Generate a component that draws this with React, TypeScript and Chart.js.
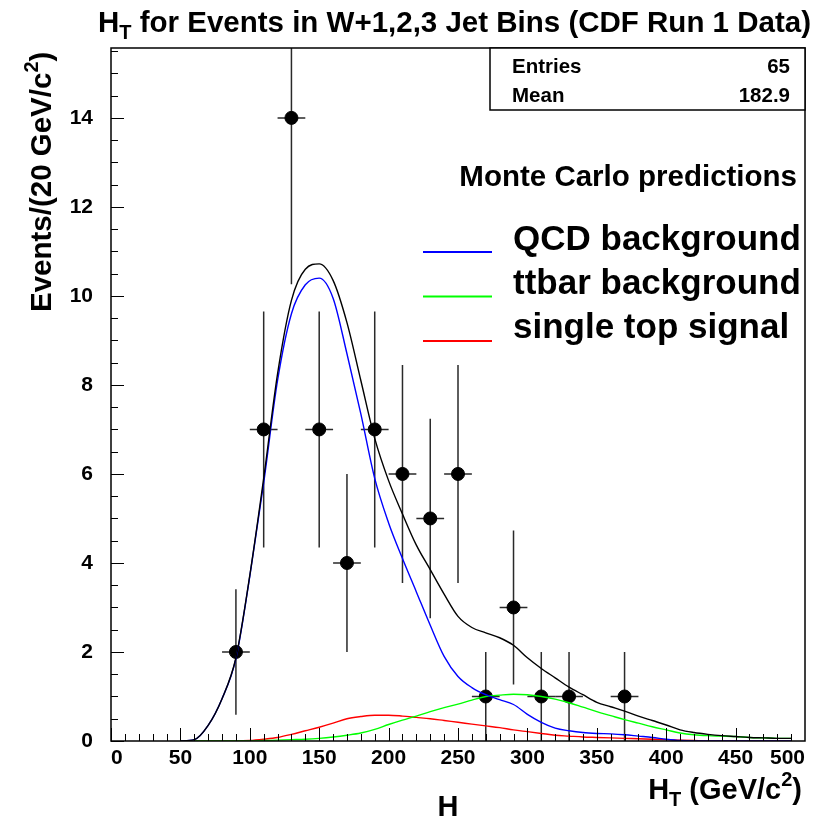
import React, { useEffect, useRef } from 'react';
import { Chart, registerables } from 'chart.js';

Chart.register(...registerables);

// ---------- data ----------
const binCenters = [90, 110, 130, 150, 170, 190, 210, 230, 250, 270, 290, 310, 330, 370];
const counts = [2, 7, 14, 7, 4, 7, 6, 5, 6, 1, 3, 1, 1, 1];
const errors = [1.41, 2.65, 3.74, 2.65, 2.0, 2.65, 2.45, 2.24, 2.45, 1.0, 1.73, 1.0, 1.0, 1.0];
const binHalfWidth = 10;

const curveX = [
  50, 60, 70, 80, 90, 100, 110, 120, 130, 140,
  150, 160, 170, 180, 190, 200, 210, 220, 230, 240,
  250, 260, 270, 280, 290, 300, 310, 320, 330, 340,
  350, 360, 370, 380, 390, 400, 410, 420, 430, 440,
  450, 460, 470, 480, 490,
];
const qcdBackground = [
  0, 0.03, 0.35, 0.95, 1.85, 3.7, 5.8, 8.1, 9.6, 10.25,
  10.4, 9.95, 8.7, 7.35, 5.9, 4.9, 4.1, 3.35, 2.6, 1.9,
  1.45, 1.2, 1.04, 0.93, 0.82, 0.6, 0.42, 0.29, 0.23, 0.19,
  0.17, 0.16, 0.14, 0.11, 0.08, 0.04, 0.01, 0, 0, 0,
  0, 0, 0, 0, 0,
];
const ttbarBackground = [
  0, 0, 0, 0, 0, 0, 0.01, 0.02, 0.03, 0.04,
  0.06, 0.09, 0.13, 0.18, 0.26, 0.37, 0.47, 0.56, 0.66, 0.75,
  0.83, 0.92, 1.0, 1.03, 1.05, 1.04, 1.0, 0.94, 0.86, 0.76,
  0.66, 0.57, 0.48, 0.4, 0.32, 0.25, 0.18, 0.14, 0.12, 0.11,
  0.1, 0.08, 0.07, 0.06, 0.06,
];
const singleTopSignal = [
  0, 0, 0, 0, 0, 0.01, 0.04, 0.08, 0.15, 0.23,
  0.31, 0.4, 0.5, 0.55, 0.58, 0.58, 0.56, 0.53, 0.5, 0.46,
  0.42, 0.38, 0.34, 0.3, 0.25, 0.21, 0.17, 0.13, 0.11, 0.09,
  0.08, 0.07, 0.06, 0.05, 0.04, 0.03, 0.02, 0.01, 0, 0,
  0, 0, 0, 0, 0,
];
const totalPrediction = [
  0, 0.03, 0.35, 0.95, 1.87, 3.72, 5.9, 8.25, 9.9, 10.6,
  10.72, 10.35, 9.4, 8.1, 6.8, 5.85, 5.1, 4.4, 3.85, 3.3,
  2.8, 2.55, 2.43, 2.32, 2.15, 1.87, 1.63, 1.42, 1.21, 1.04,
  0.87, 0.77, 0.67, 0.56, 0.46, 0.36, 0.25, 0.19, 0.15, 0.12,
  0.1, 0.08, 0.07, 0.06, 0.06,
];

const xTickValues = [0, 50, 100, 150, 200, 250, 300, 350, 400, 450, 500];
const yTickValues = [0, 2, 4, 6, 8, 10, 12, 14];

const titleMain = 'H';
const titleSub = 'T';
const titleRest = ' for Events in W+1,2,3 Jet Bins (CDF Run 1 Data)';
const legendHeader = 'Monte Carlo predictions';
const legendLabels = ['QCD background', 'ttbar background', 'single top signal'];
const legendColors = ['#0000ff', '#00ff00', '#ff0000'];
const statsLabels = ['Entries', 'Mean'];
const statsValues = ['65', '182.9'];

const FONT = '"Liberation Sans", Arial, Helvetica, sans-serif';

type Part = { t: string; s: number; dy?: number };

function partsWidth(ctx: CanvasRenderingContext2D, parts: Part[]) {
  let w = 0;
  for (const p of parts) {
    ctx.font = `bold ${p.s}px ${FONT}`;
    w += ctx.measureText(p.t).width;
  }
  return w;
}

function drawParts(ctx: CanvasRenderingContext2D, parts: Part[], x: number, y: number) {
  let cx = x;
  ctx.textAlign = 'left';
  ctx.textBaseline = 'alphabetic';
  for (const p of parts) {
    ctx.font = `bold ${p.s}px ${FONT}`;
    ctx.fillText(p.t, cx, y + (p.dy || 0));
    cx += ctx.measureText(p.t).width;
  }
}

const overlay = {
  id: 'overlay',
  beforeDatasetsDraw(chart: any) {
    const { ctx, chartArea: a } = chart;
    const xs = chart.scales.x;
    const ys = chart.scales.y;
    ctx.save();
    ctx.beginPath();
    ctx.rect(a.left, a.top, a.right - a.left, a.bottom - a.top);
    ctx.clip();
    ctx.strokeStyle = '#2a2a2a';
    ctx.lineWidth = 1.5;
    for (let i = 0; i < binCenters.length; i++) {
      const px = xs.getPixelForValue(binCenters[i]);
      const py = ys.getPixelForValue(counts[i]);
      ctx.beginPath();
      ctx.moveTo(px, ys.getPixelForValue(counts[i] - errors[i]));
      ctx.lineTo(px, ys.getPixelForValue(counts[i] + errors[i]));
      ctx.moveTo(xs.getPixelForValue(binCenters[i] - binHalfWidth), py);
      ctx.lineTo(xs.getPixelForValue(binCenters[i] + binHalfWidth), py);
      ctx.stroke();
    }
    ctx.restore();
  },
  afterDraw(chart: any) {
    const { ctx, chartArea: a } = chart;
    const xs = chart.scales.x;
    const ys = chart.scales.y;
    ctx.save();
    ctx.fillStyle = '#000';
    ctx.strokeStyle = '#000';

    // frame
    ctx.lineWidth = 1.5;
    ctx.strokeRect(a.left, a.top, a.right - a.left, a.bottom - a.top);

    // x tick marks (inward)
    ctx.lineWidth = 1;
    for (let v = 0; v <= 490; v += 10) {
      const px = Math.round(xs.getPixelForValue(v)) + 0.5;
      const len = v % 50 === 0 ? 13 : 7;
      ctx.beginPath();
      ctx.moveTo(px, a.bottom);
      ctx.lineTo(px, a.bottom - len);
      ctx.stroke();
    }
    // y tick marks (inward)
    for (let v = 0; v <= 15.5; v += 0.5) {
      const py = Math.round(ys.getPixelForValue(v)) + 0.5;
      const len = Math.abs(v % 2) < 1e-6 ? 13 : 7;
      ctx.beginPath();
      ctx.moveTo(a.left, py);
      ctx.lineTo(a.left + len, py);
      ctx.stroke();
    }

    // title
    drawParts(ctx, [
      { t: titleMain, s: 29.5 },
      { t: titleSub, s: 20, dy: 7 },
      { t: titleRest, s: 29.5 },
    ], 98, 32);

    // y title (rotated)
    ctx.save();
    ctx.translate(51, 312);
    ctx.rotate(-Math.PI / 2);
    drawParts(ctx, [
      { t: 'Events/(20 GeV/c', s: 29.5 },
      { t: '2', s: 20, dy: -13 },
      { t: ')', s: 29.5 },
    ], 0, 0);
    ctx.restore();

    // x title
    const xParts: Part[] = [
      { t: 'H', s: 29 },
      { t: 'T', s: 20, dy: 7 },
      { t: ' (GeV/c', s: 29 },
      { t: '2', s: 20, dy: -13 },
      { t: ')', s: 29 },
    ];
    const xw = partsWidth(ctx, xParts);
    drawParts(ctx, xParts, 802 - xw, 799);

    // big H under axis
    ctx.font = `bold 29px ${FONT}`;
    ctx.textAlign = 'center';
    ctx.fillText('H', 448, 816);

    // stats box
    const boxLeft = 490;
    ctx.fillStyle = '#fff';
    ctx.fillRect(boxLeft, a.top, a.right - boxLeft, 62);
    ctx.lineWidth = 1.5;
    ctx.strokeRect(boxLeft, a.top, a.right - boxLeft, 62);
    ctx.fillStyle = '#000';
    ctx.font = `bold 20.5px ${FONT}`;
    for (let i = 0; i < statsLabels.length; i++) {
      const by = a.top + 25 + i * 29;
      ctx.textAlign = 'left';
      ctx.fillText(statsLabels[i], 512, by);
      ctx.textAlign = 'right';
      ctx.fillText(statsValues[i], 790, by);
    }

    // legend
    ctx.font = `bold 29.5px ${FONT}`;
    ctx.textAlign = 'right';
    ctx.fillText(legendHeader, 797, 186);
    ctx.textAlign = 'left';
    ctx.font = `bold 35px ${FONT}`;
    for (let i = 0; i < legendLabels.length; i++) {
      const ly = 252 + i * 44.5;
      ctx.strokeStyle = legendColors[i];
      ctx.lineWidth = 2;
      ctx.beginPath();
      ctx.moveTo(423, ly);
      ctx.lineTo(492, ly);
      ctx.stroke();
      ctx.fillText(legendLabels[i], 513, 250 + i * 44);
    }
    ctx.restore();
  },
};

function curveData(vals: number[]) {
  return curveX.map((x, i) => ({ x, y: vals[i] }));
}

export default function App() {
  const ref = useRef<HTMLCanvasElement | null>(null);
  useEffect(() => {
    if (!ref.current) return;
    const lineDs = (label: string, vals: number[], color: string) => ({
      label,
      data: curveData(vals),
      showLine: true,
      borderColor: color,
      backgroundColor: color,
      borderWidth: 1.4,
      pointRadius: 0,
      cubicInterpolationMode: 'monotone' as const,
      fill: false,
    });
    const chart = new Chart(ref.current, {
      type: 'scatter',
      data: {
        datasets: [
          lineDs('total', totalPrediction, '#000000'),
          lineDs('QCD background', qcdBackground, '#0000ff'),
          lineDs('ttbar background', ttbarBackground, '#00ff00'),
          lineDs('single top signal', singleTopSignal, '#ff0000'),
          {
            label: 'data',
            data: binCenters.map((x, i) => ({ x, y: counts[i] })),
            showLine: false,
            pointRadius: 6.5,
            pointBackgroundColor: '#000',
            pointBorderColor: '#000',
            backgroundColor: '#000',
            borderColor: '#000',
          },
        ],
      },
      options: {
        animation: false,
        responsive: false,
        maintainAspectRatio: false,
        layout: { padding: { left: 0, top: 48, right: 19, bottom: 0 } },
        plugins: { legend: { display: false }, tooltip: { enabled: false }, title: { display: false } },
        scales: {
          x: {
            type: 'linear',
            min: 0,
            max: 500,
            grid: { display: false, drawTicks: false },
            border: { display: false },
            afterBuildTicks: (s: any) => { s.ticks = xTickValues.map((v) => ({ value: v })); },
            afterFit: (s: any) => { s.height = 78; },
            ticks: {
              padding: 5,
              align: 'inner',
              color: '#000',
              font: { family: FONT, size: 21, weight: 'bold' },
              maxRotation: 0,
              autoSkip: false,
            },
          },
          y: {
            type: 'linear',
            min: 0,
            max: 15.57,
            grid: { display: false, drawTicks: false },
            border: { display: false },
            afterBuildTicks: (s: any) => { s.ticks = yTickValues.map((v) => ({ value: v })); },
            afterFit: (s: any) => { s.width = 111; },
            ticks: {
              padding: 18,
              color: '#000',
              font: { family: FONT, size: 21, weight: 'bold' },
              autoSkip: false,
            },
          },
        },
      } as any,
      plugins: [overlay],
    });
    return () => chart.destroy();
  }, []);
  return (
    <div style={{ position: 'fixed', left: 0, top: 0, width: 824, height: 819, background: '#fff' }}>
      <canvas ref={ref} width={824} height={819} style={{ width: 824, height: 819 }} />
    </div>
  );
}
